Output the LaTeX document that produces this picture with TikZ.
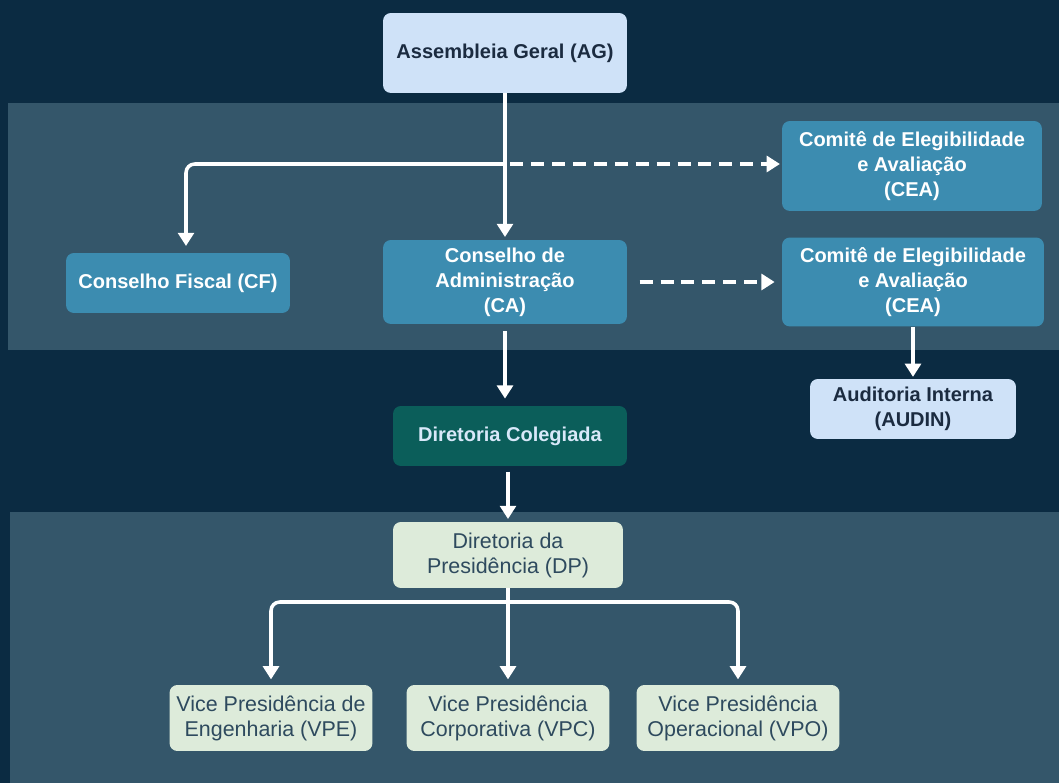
\documentclass[tikz,border=0pt]{standalone}
\usepackage{fontspec}
\setmainfont{Liberation Sans}
\usetikzlibrary{positioning, arrows.meta}
\definecolor{navy}{HTML}{0B2B42}
\definecolor{band}{HTML}{34566A}
\definecolor{paleblue}{HTML}{CFE2F8}
\definecolor{steel}{HTML}{3C8CB0}
\definecolor{teal}{HTML}{0B5E5A}
\definecolor{palegreen}{HTML}{DDEBDA}
\definecolor{inkdark}{HTML}{1B2B40}
\definecolor{inkslate}{HTML}{2E4A5E}
\tikzstyle{box}=[rectangle,rounded corners=4.5pt,inner sep=0pt,align=center,font=\fontsize{11.4}{14.2}\selectfont\bfseries]
\tikzstyle{topbox}=[box,fill=paleblue,text=inkdark]
\tikzstyle{board}=[box,fill=steel,text=white]
\tikzstyle{exec}=[box,fill=teal,text=paleblue!80!white]
\tikzstyle{vice}=[box,fill=palegreen,text=inkslate,font=\fontsize{12.2}{14.2}\selectfont]
\tikzstyle{line}=[draw=white,line width=2pt,->]
\tikzstyle{dashline}=[line,dash pattern=on 7.4pt off 4.5pt]

\begin{document}
\begin{tikzpicture}[x=0.02cm,y=-0.02cm,>={Triangle[width=9pt,length=7.5pt]}]
            % background and bands
            \fill[navy] (0,0) rectangle (1059,783);
            \fill[band] (8,103) rectangle (1059,350);
            \fill[band] (10,512) rectangle (1059,783);
            \useasboundingbox (0,0) rectangle (1059,783);

            \node[topbox, minimum width=4.88cm, minimum height=1.6cm] (ag) at (505,53) {Assembleia Geral (AG)};
            \node[board, minimum width=4.48cm, minimum height=1.2cm] (cf) at (178,283) {Conselho Fiscal (CF)};
            \node[board, minimum width=4.88cm, minimum height=1.68cm] (ca) at (505,282) {Conselho de\\Administração\\(CA)};
            \node[board, minimum width=5.2cm, minimum height=1.8cm] (cea1) at (912,166) {Comitê de Elegibilidade\\e Avaliação\\(CEA)};
            \node[board, minimum width=5.24cm, minimum height=1.78cm] (cea2) at (913,282) {Comitê de Elegibilidade\\e Avaliação\\(CEA)};
            \node[topbox, minimum width=4.12cm, minimum height=1.2cm] (audin) at (913,409) {Auditoria Interna\\(AUDIN)};
            \node[exec, minimum width=4.68cm, minimum height=1.2cm] (dc) at (510,436) {Diretoria Colegiada};
            \node[vice, minimum width=4.6cm, minimum height=1.32cm] (dp) at (508,555) {Diretoria da\\Presidência (DP)};
            \node[vice, minimum width=4.06cm, minimum height=1.32cm] (vpe) at (271,718) {Vice Presidência de\\Engenharia (VPE)};
            \node[vice, minimum width=4.06cm, minimum height=1.32cm] (vpc) at (508,718) {Vice Presidência\\Corporativa (VPC)};
            \node[vice, minimum width=4.06cm, minimum height=1.32cm] (vpo) at (738,718) {Vice Presidência\\Operacional (VPO)};

            \coordinate (split) at (505,164);
            \coordinate (cfin) at (186,253);
            \coordinate (fork) at (508,602);

            \draw[line, shorten >=1.5pt] (ag) -- (ca);
            \draw[line, rounded corners=5pt, shorten >=4pt] (split) -| (cfin);
            \draw[dashline, shorten <=3pt, shorten >=1pt] (split) -- (cea1.west |- split);
            \draw[dashline, shorten <=7pt, shorten >=4pt] (ca) -- (cea2);
            \draw[line, shorten <=4pt, shorten >=4pt] (ca.south) -- (ca.south |- dc.north);
            \draw[line, shorten >=1pt] (cea2) -- (audin);
            \draw[line, shorten <=3pt, shorten >=1.5pt] (dc.south -| dp.north) -- (dp.north);
            \draw[line, shorten >=3pt] (dp) -- (vpc);
            \draw[line, rounded corners=5pt, shorten >=3pt] (fork) -| (vpe.north);
            \draw[line, rounded corners=5pt, shorten >=3pt] (fork) -| (vpo.north);
        \end{tikzpicture}
\end{document}
